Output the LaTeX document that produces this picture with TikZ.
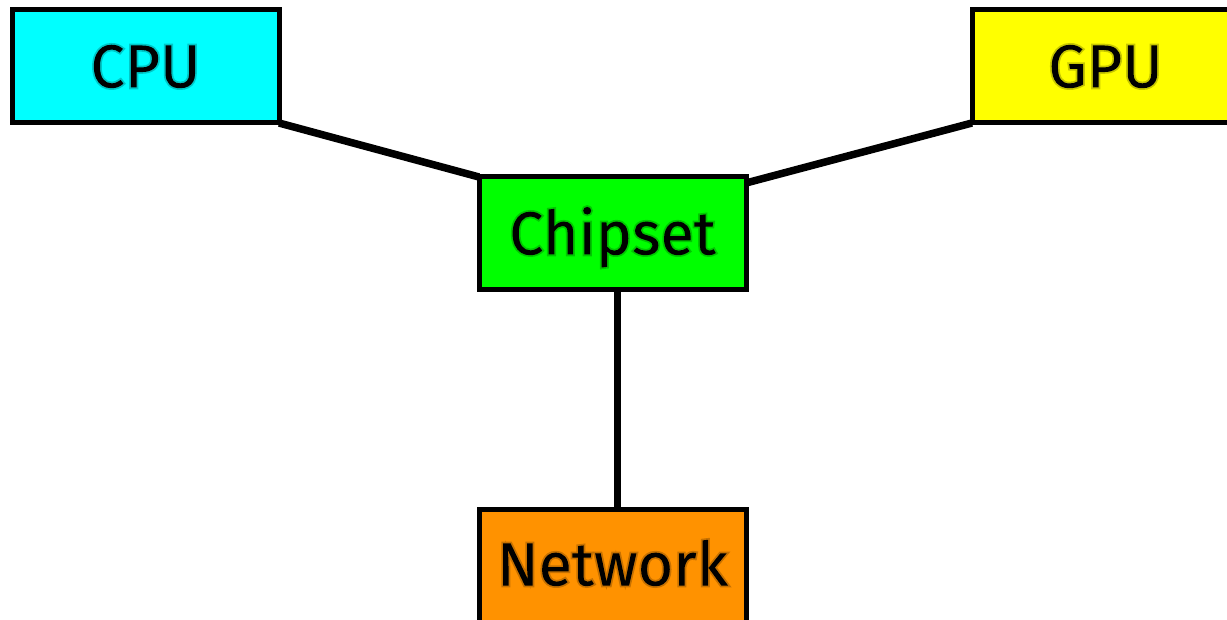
\documentclass[tikz,border=0pt]{standalone}
\usepackage{fontspec}
\setmainfont{Fira Sans}
\definecolor{cpucol}{RGB}{0,255,255}
\definecolor{gpucol}{RGB}{255,255,0}
\definecolor{chipcol}{RGB}{0,255,0}
\definecolor{netcol}{RGB}{255,146,0}
% text drawn with a faint dark halo (fill + translucent stroke)
\newcommand{\halo}[1]{\special{pdf:literal direct 2 Tr 3.5 w 0 0 0 RG}#1\special{pdf:literal direct 0 Tr}}
\tikzset{
  unit/.style={draw=black, line width=5pt, minimum width=267pt, minimum height=113pt,
    inner sep=0pt, outer sep=0pt, anchor=north west},
  link/.style={draw=black, line width=7.5pt},
  lbl/.style={font=\fontsize{61}{66}\selectfont, text=black, anchor=base,
    inner sep=0pt, draw opacity=0.22},
}
\begin{document}
\begin{tikzpicture}[x=1pt, y=-1pt]
  \useasboundingbox (0,0) rectangle (1227,620);
  \begin{scope}
    \clip (0,0) rectangle (1227,620);
    \node[unit, fill=cpucol] (cpu) at (12,10) {};
    \node[unit, fill=gpucol] (gpu) at (972,10) {};
    \node[unit, fill=chipcol] (chip) at (479,177) {};
    \node[unit, fill=netcol] (net) at (479,509) {};
    \draw[link] (cpu.south east) -- (chip.north west);
    \draw[link] (gpu.south west) -- ([yshift=-6pt]chip.north east);
    \draw[link] ([xshift=5pt]chip.south) -- ([xshift=5pt]net.north);
    \node[lbl] (cpulbl) at ([yshift=-21pt]cpu.center) {\halo{CPU}};
    \node[lbl] (gpulbl) at ([yshift=-21pt]gpu.center) {\halo{GPU}};
    \node[lbl] (chiplbl) at ([yshift=-21pt]chip.center) {\halo{Chipset}};
    \node[lbl] (netlbl) at ([yshift=-20pt]net.center) {\halo{Network}};
  \end{scope}
\end{tikzpicture}
\end{document}
